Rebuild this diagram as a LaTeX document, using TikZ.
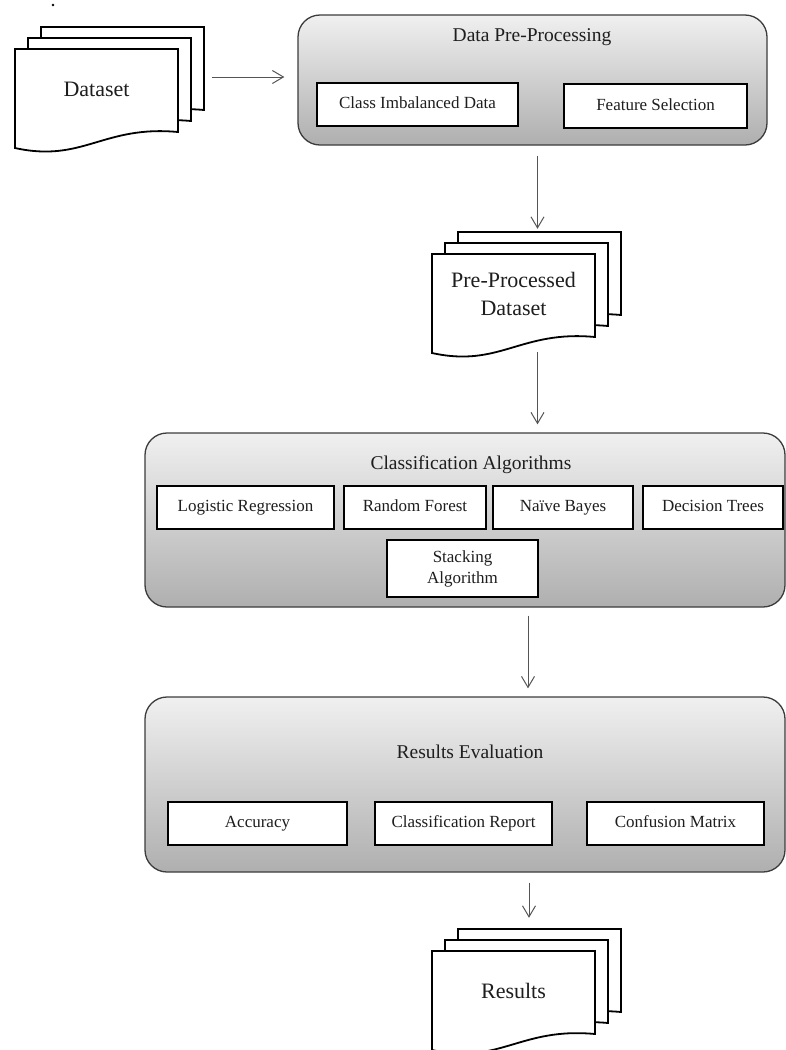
\documentclass[tikz,border=0pt]{standalone}
\usepackage{fontspec}
\setmainfont{Liberation Serif}
\usetikzlibrary{arrows.meta,calc}
\definecolor{toplight}{RGB}{240,240,240}
\definecolor{botdark}{RGB}{175,175,175}
\definecolor{bordergray}{RGB}{60,60,60}
\definecolor{arrowgray}{RGB}{85,85,85}
\definecolor{txt}{RGB}{30,30,30}
\tikzset{
  cont/.style={draw=bordergray, line width=1.3pt, rounded corners=22pt,
    top color=toplight, bottom color=botdark, inner sep=0pt},
  inbox/.style={draw=black, line width=1.7pt, fill=white, inner sep=0pt,
    minimum height=43pt, text=txt, font=\fontsize{17}{21}\selectfont, align=center},
  oneline/.style={text height=12pt, text depth=4pt},
  ttl/.style={text=txt, inner sep=0pt, font=\fontsize{19.5}{23}\selectfont},
  page/.style={draw=black, line width=1.8pt, fill=white, line join=miter},
  ghost/.style={inner sep=0pt, draw=none, minimum width=163pt},
  doctext/.style={text=txt, inner sep=0pt, align=center, font=\fontsize{22}{28}\selectfont},
  arr/.style={draw=arrowgray, line width=1pt, -{Straight Barb[length=11pt,width=13pt,line width=1pt]}}
}
\newcommand\docstack[4]{%
  \begin{scope}[shift={(#2,#3)}]
    \foreach \dx/\dy in {26/-22,13/-11,0/0}{
      \draw[page] (\dx,\dy) -- (\dx+163,\dy) -- (\dx+163,\dy+83)
        .. controls (\dx+88,\dy+76) and (\dx+68,\dy+114) .. (\dx,\dy+99) -- cycle;
    }
    \node[ghost, minimum height=83pt] (#1back) at (107.5,19.5) {};
    \node[ghost, minimum height=99pt] (#1) at (81.5,49.5) {};
    \node[doctext] (#1text) at (81.5,40) {#4};
  \end{scope}}
\begin{document}
\begin{tikzpicture}[x=1pt,y=-1pt]
\useasboundingbox (0,0) rectangle (786,1050);
\clip (0,0) rectangle (786,1050);
\fill[white] (0,0) rectangle (786,1050);
\fill[black] (53,5) circle (1.3);

% Dataset stack
\docstack{ds}{15}{49}{Dataset}

% Data Pre-Processing
\node[cont, minimum width=469pt, minimum height=130pt] (dpp) at (532.5,80) {};
\node[ttl] (dppt) at (532,37) {Data Pre-Processing};
\node[inbox, oneline, minimum width=201pt] (cid) at (417.5,104.5) {Class Imbalanced Data};
\node[inbox, oneline, minimum width=183pt, minimum height=44pt] (fs) at (655.5,106) {Feature Selection};

% Pre-processed stack
\docstack{pp}{432}{254}{Pre-Processed\\Dataset}

% Classification
\node[cont, minimum width=640pt, minimum height=174pt] (cls) at (465,520) {};
\node[ttl] (clst) at (471,465) {Classification Algorithms};
\node[inbox, oneline, minimum width=177pt] (lr) at (245.5,507.5) {Logistic Regression};
\node[inbox, oneline, minimum width=142pt] (rf) at (415,507.5) {Random Forest};
\node[inbox, oneline, minimum width=140pt] (nb) at (563,507.5) {Naïve Bayes};
\node[inbox, oneline, minimum width=140pt] (dt) at (713,507.5) {Decision Trees};
\node[inbox, minimum width=151pt, minimum height=57pt] (sa) at (462.5,568.5) {Stacking\\Algorithm};

% Results evaluation
\node[cont, minimum width=640pt, minimum height=175pt] (re) at (465,784.5) {};
\node[ttl] (ret) at (470,752) {Results Evaluation};
\node[inbox, oneline, minimum width=179pt] (acc) at (257.5,823.5) {Accuracy};
\node[inbox, oneline, minimum width=177pt] (cr) at (463.5,823.5) {Classification Report};
\node[inbox, oneline, minimum width=177pt] (cm) at (675.5,823.5) {Confusion Matrix};

% Results stack
\docstack{res}{432}{951}{Results}

% connectors
\coordinate (a1) at ([yshift=3pt]dpp.west);
\draw[arr, shorten <=8pt, shorten >=13pt] (dsback.east |- a1) -- (a1);
\coordinate (a2) at ([xshift=-2pt]ppback.north);
\draw[arr, shorten <=10pt, shorten >=3pt] (a2 |- dpp.south) -- (a2);
\draw[arr, shorten <=-1pt, shorten >=8pt] (a2 |- pp.south) -- (a2 |- cls.north);
\coordinate (a3) at ([xshift=63pt]cls.south);
\draw[arr, shorten <=8pt, shorten >=8pt] (a3) -- (a3 |- re.north);
\coordinate (a4) at ([xshift=64pt]re.south);
\draw[arr, shorten <=10pt, shorten >=11pt] (a4) -- (a4 |- resback.north);
\end{tikzpicture}
\end{document}
